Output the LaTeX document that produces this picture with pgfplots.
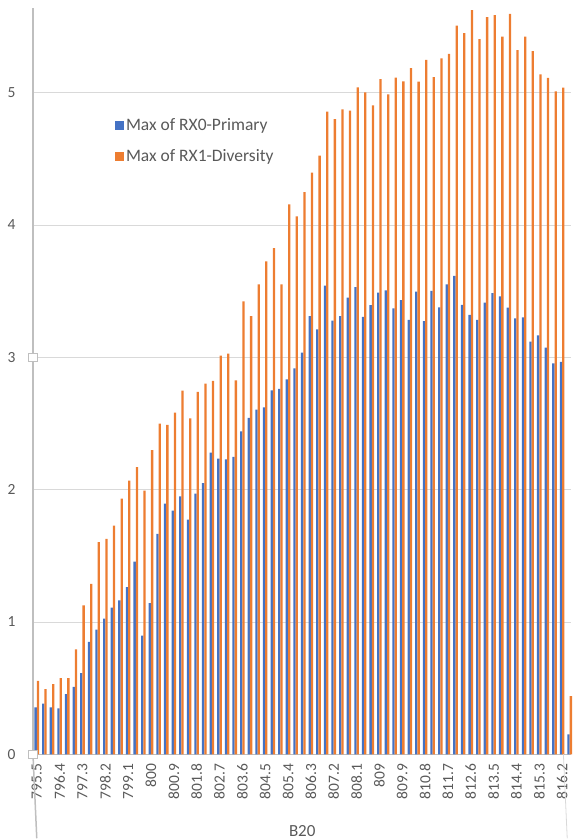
\documentclass[border=0pt]{standalone}
\usepackage{pgfplots}
\usepackage{pgfplotstable}
\pgfplotsset{compat=1.18}
\usepackage{fontspec}
\setmainfont{Carlito}
\definecolor{blueC}{HTML}{4472C4}
\definecolor{orangeC}{HTML}{ED7D31}
\definecolor{txtC}{HTML}{595959}
\definecolor{gridC}{HTML}{D9D9D9}
\definecolor{axC}{HTML}{BFBFBF}
\pgfplotstableread{
x b o
0 0.354 0.555
1 0.384 0.492
2 0.354 0.530
3 0.347 0.575
4 0.455 0.575
5 0.510 0.794
6 0.613 1.126
7 0.849 1.289
8 0.942 1.603
9 1.025 1.628
10 1.108 1.729
11 1.163 1.932
12 1.264 2.068
13 1.457 2.171
14 0.897 1.992
15 1.143 2.299
16 1.666 2.500
17 1.894 2.490
18 1.842 2.583
19 1.950 2.749
20 1.774 2.538
21 1.970 2.739
22 2.050 2.801
23 2.279 2.822
24 2.234 3.013
25 2.229 3.028
26 2.247 2.826
27 2.441 3.423
28 2.542 3.312
29 2.605 3.552
30 2.622 3.725
31 2.751 3.826
32 2.761 3.552
33 2.834 4.156
34 2.917 4.065
35 3.035 4.249
36 3.312 4.395
37 3.212 4.524
38 3.542 4.856
39 3.277 4.801
40 3.312 4.874
41 3.451 4.864
42 3.531 5.040
43 3.305 5.003
44 3.395 4.904
45 3.489 5.103
46 3.506 4.987
47 3.370 5.113
48 3.433 5.086
49 3.284 5.186
50 3.496 5.083
51 3.274 5.247
52 3.503 5.118
53 3.377 5.259
54 3.551 5.294
55 3.616 5.506
56 3.397 5.450
57 3.321 5.624
58 3.284 5.405
59 3.413 5.571
60 3.486 5.586
61 3.460 5.423
62 3.375 5.596
63 3.294 5.322
64 3.302 5.423
65 3.118 5.314
66 3.166 5.138
67 3.073 5.111
68 2.955 5.010
69 2.965 5.038
70 0.150 0.440
}\datatable
\begin{document}
\begin{tikzpicture}
\path (-33pt,-84pt) rectangle (539pt,755pt);
\begin{axis}[
  at={(0,0)}, anchor=south west,
  scale only axis,
  width=539pt, height=747pt,
  xmin=-0.5, xmax=70.23, ymin=0, ymax=5.64,
  enlargelimits=false,
  clip=false,
  ybar=0pt, bar width=2.3pt,
  axis lines*=left,
  x axis line style={draw=axC, line width=1pt},
  y axis line style={draw=axC, line width=1.5pt},
  major tick length=0pt,
  ytick={0,1,2,3,4,5},
  ymajorgrids, grid style={gridC, line width=0.8pt},
  xtick={0,3,...,69},
  xticklabels={795.5,796.4,797.3,798.2,799.1,800,800.9,801.8,802.7,803.6,804.5,805.4,806.3,807.2,808.1,809,809.9,810.8,811.7,812.6,813.5,814.4,815.3,816.2},
  /pgf/number format/assume math mode=true,
  ticklabel style={font=\fontsize{15.5}{18}\selectfont, text=txtC},
  yticklabel style={anchor=east, xshift=-14pt},
  xticklabel style={rotate=90, anchor=east, xshift=-6pt},
  xlabel={B20},
  xlabel style={font=\fontsize{17}{20}\selectfont, text=txtC, at={(rel axis cs:0.5,0)}, anchor=base, inner sep=0pt, yshift=-82pt},
  legend style={at={(rel axis cs:0.152,0.855)}, anchor=north west, draw=none, fill=none,
    font=\fontsize{17.5}{20}\selectfont, text=txtC, row sep=14pt, inner sep=0pt,
    cells={anchor=west}},
]
\addplot[fill=blueC, draw=none, legend image code/.code={\fill[blueC] (0pt,-4.5pt) rectangle (9pt,4.5pt);}] table[x=x,y=b]{\datatable};
\addlegendentry{Max of RX0-Primary}
\addplot[fill=orangeC, draw=none, legend image code/.code={\fill[orangeC] (0pt,-4.5pt) rectangle (9pt,4.5pt);}] table[x=x,y=o]{\datatable};
\addlegendentry{Max of RX1-Diversity}
\draw[axC, line width=1.5pt] (rel axis cs:0,0) -- ++(0,-84pt);
\draw[gridC, line width=0.8pt] (rel axis cs:0.985,0) -- ++(0,-84pt);
\draw[axC, fill=white, line width=0.6pt] (axis cs:-0.5,0) ++(-4.2pt,-4.2pt) rectangle ++(8.4pt,8.4pt);
\draw[axC, fill=white, line width=0.6pt] (axis cs:-0.5,3) ++(-4.2pt,-4.2pt) rectangle ++(8.4pt,8.4pt);
\end{axis}
\end{tikzpicture}
\end{document}
